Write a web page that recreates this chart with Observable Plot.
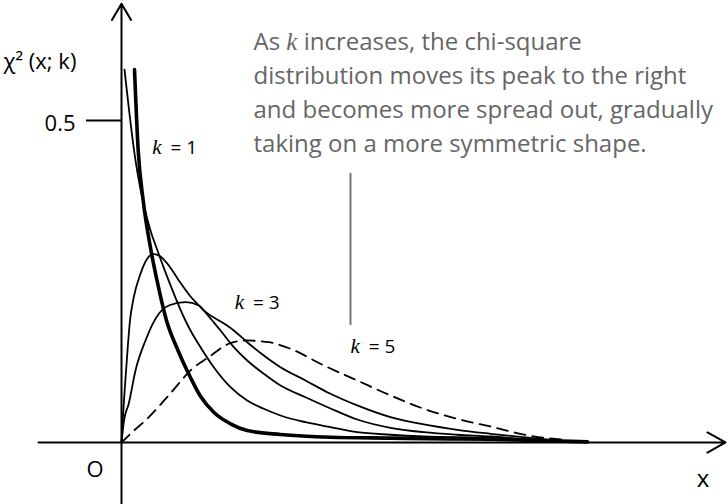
<!DOCTYPE html>
<html>
<head>
<meta charset="utf-8">
<script src="https://cdn.jsdelivr.net/npm/d3@7"></script>
<script src="https://cdn.jsdelivr.net/npm/@observablehq/plot@0.6"></script>
<style>
  html, body { margin: 0; padding: 0; background: #fff; }
  #chart svg { display: block; }
</style>
</head>
<body>
<div id="chart"></div>
<script>
// ---- data (x in data units, y = density) ----
const k1 = [[0.325,0.579],[0.4175,0.4534],[0.5425,0.3758],[0.7375,0.2981],[0.8875,0.2516],[1.125,0.1894],[1.4125,0.1429],[1.725,0.1009],[1.9625,0.073],[2.3125,0.0466],[2.725,0.029],[3.1425,0.0186],[3.975,0.0124],[5.225,0.0082],[6.725,0.0068],[8.225,0.0055],[9.225,0.005],[10.5,0.003],[11.65,0.001]];
const k2 = [[0.075,0.579],[0.35,0.438],[0.433,0.407],[0.725,0.329],[0.9,0.298],[1.175,0.252],[1.6,0.189],[1.725,0.1739],[1.975,0.148],[2.3075,0.1169],[2.725,0.0859],[3.1425,0.0652],[3.5575,0.0523],[3.975,0.0419],[4.6,0.0315],[5.225,0.0238],[5.893,0.016],[6.725,0.012],[7.558,0.0093],[9.225,0.0072],[10.475,0.0031],[11.475,0.0008]];
const k3 = [[0,0],[0.0375,0.0419],[0.0875,0.0885],[0.15,0.1429],[0.2125,0.1894],[0.3075,0.2256],[0.475,0.262],[0.6425,0.2852],[0.7925,0.293],[0.975,0.2888],[1.1825,0.2748],[1.4325,0.2516],[1.725,0.2267],[2.0575,0.205],[2.2675,0.1894],[2.475,0.1739],[2.8075,0.148],[3.1425,0.1273],[3.5575,0.1067],[3.975,0.0885],[4.6,0.0703],[5.225,0.0528],[5.893,0.0357],[6.725,0.0228],[7.558,0.016],[8.393,0.012],[9.225,0.0093],[10.3,0.0039],[11.35,0.0008]];
const k4 = [[0,0],[0.0625,0.034],[0.1825,0.0606],[0.35,0.1118],[0.6,0.1584],[0.9325,0.1998],[1.1825,0.2127],[1.6,0.2179],[1.9325,0.2127],[2.0575,0.205],[2.6,0.1832],[2.8075,0.1739],[3.1425,0.1557],[3.5575,0.1351],[3.975,0.1169],[4.6,0.0963],[5.225,0.0756],[5.893,0.0575],[6.725,0.0393],[7.558,0.028],[8.393,0.0197],[9.225,0.0135],[10.225,0.007],[11.14,0.0016]];
const k5 = [[0,0],[0.2675,0.016],[0.6825,0.0393],[0.9925,0.0601],[1.25,0.0781],[1.7675,0.1144],[2.1825,0.1325],[2.6825,0.1533],[3.1,0.1584],[3.6825,0.1557],[4.225,0.1455],[5.058,0.1196],[5.893,0.0963],[6.725,0.073],[7.558,0.0523],[8.393,0.0368],[9.225,0.0248],[10.308,0.0093],[11.14,0.0042]];

const yTicks = [0.5];
const curveLabels = [{k: 1, x: 0.7675, y: 0.4483}, {k: 3, x: 2.8325, y: 0.2076}, {k: 5, x: 5.725, y: 0.1387}];
const annotationLines = [
  "As k increases, the chi-square",
  "distribution moves its peak to the right",
  "and becomes more spread out, gradually",
  "taking on a more symmetric shape."
];
const axisNames = {y: "χ² (x; k)", x: "x", origin: "O"};

// ---- chart ----
const SANS = "Open Sans";
const px = d => d[0], py = d => d[1];

const svg = Plot.plot({
  width: 728,
  height: 504,
  margin: 0,
  style: {background: "#fff", fontFamily: SANS, overflow: "visible"},
  x: {domain: [-3.025, 15.175], axis: null},
  y: {domain: [-0.0963, 0.6863], axis: null},
  marks: [
    // axes with arrowheads
    Plot.arrow([0], {x1: -2.075, x2: 15.1, y1: 0, y2: 0, stroke: "#000", strokeWidth: 2, headLength: 15.5, headAngle: 58}),
    Plot.arrow([0], {x1: 0, x2: 0, y1: -0.0963, y2: 0.6812, stroke: "#000", strokeWidth: 2, headLength: 14, headAngle: 61}),
    Plot.ruleY(yTicks, {x1: -0.875, x2: 0, stroke: "#000", strokeWidth: 2}),
    Plot.text(yTicks, {x: -1.15, y: d => d, text: d => d3.format(".1f")(d), textAnchor: "end", lineAnchor: "middle", dy: 3, fontSize: 22, fontFamily: SANS, fill: "#000"}),
    Plot.text([axisNames.y], {x: -2.95, y: 0.5807, text: d => d, textAnchor: "start", lineAnchor: "bottom", fontSize: 22, fontFamily: SANS, fill: "#000"}),
    Plot.text([axisNames.x], {x: 14.5375, y: -0.0699, text: d => d, textAnchor: "middle", lineAnchor: "bottom", fontSize: 24, fontFamily: SANS, fill: "#000"}),
    Plot.text([axisNames.origin], {x: -0.6625, y: -0.0543, text: d => d, textAnchor: "middle", lineAnchor: "bottom", fontSize: 22, fontFamily: SANS, fill: "#000"}),

    // curves
    Plot.line(k5, {x: px, y: py, curve: "monotone-x", stroke: "#000", strokeWidth: 1.8, strokeDasharray: "11,7"}),
    Plot.line(k4, {x: px, y: py, curve: "monotone-x", stroke: "#000", strokeWidth: 1.8}),
    Plot.line(k3, {x: px, y: py, curve: "monotone-x", stroke: "#000", strokeWidth: 1.8}),
    Plot.line(k2, {x: px, y: py, curve: "monotone-x", stroke: "#000", strokeWidth: 1.8}),
    Plot.line(k1, {x: px, y: py, curve: "monotone-x", stroke: "#000", strokeWidth: 3.6}),

    // curve labels
    Plot.text(curveLabels, {x: "x", y: "y", text: d => `k = ${d.k}`, textAnchor: "start", lineAnchor: "bottom", fontSize: 19, fontFamily: SANS, fill: "#000"}),

    // annotation
    Plot.ruleX([5.725], {y1: 0.1817, y2: 0.4177, stroke: "#777", strokeWidth: 2}),
    Plot.text([annotationLines.join("\n")], {x: 3.3, y: 0.4508, text: d => d, textAnchor: "start", lineAnchor: "bottom", lineHeight: 1.4167, fontSize: 24, fontFamily: SANS, fill: "#666"})
  ]
});

// italic math "k"
const NS = "http://www.w3.org/2000/svg";
function mathK(size) {
  const t = document.createElementNS(NS, "tspan");
  t.setAttribute("font-family", "Liberation Serif, DejaVu Serif, serif");
  t.setAttribute("font-style", "italic");
  if (size) t.setAttribute("font-size", size);
  t.textContent = "k";
  return t;
}
svg.querySelectorAll("text").forEach(t => {
  const s = t.textContent;
  if (/^k = \d$/.test(s)) {
    t.textContent = "";
    t.appendChild(mathK(21));
    const rest = document.createElementNS(NS, "tspan");
    rest.setAttribute("dx", "4");
    rest.textContent = " " + s.slice(2);
    t.appendChild(rest);
  }
});
svg.querySelectorAll("tspan").forEach(t => {
  const s = t.textContent;
  if (s.startsWith("As k ")) {
    t.textContent = "As ";
    t.appendChild(mathK(25));
    t.appendChild(document.createTextNode(" " + s.slice(5)));
  }
});

document.getElementById("chart").appendChild(svg);
</script>
</body>
</html>
